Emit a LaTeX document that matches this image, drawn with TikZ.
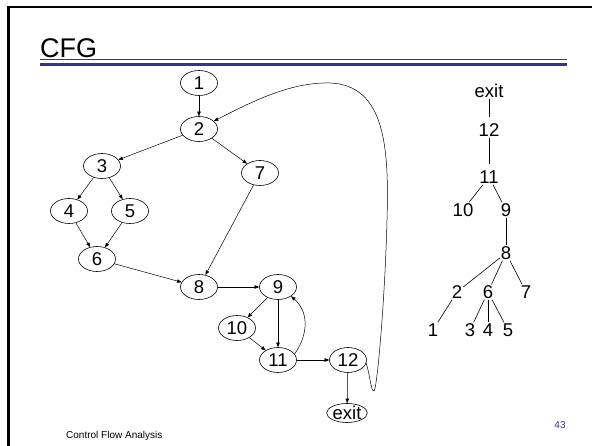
\documentclass[tikz,border=0pt]{standalone}
\usepackage{fontspec}
\setmainfont{Liberation Sans}
\usetikzlibrary{shapes.geometric,arrows.meta}
\definecolor{slideblue}{RGB}{51,51,153}
\begin{document}
\begin{tikzpicture}[x=1pt,y=-1pt,
  cfg/.style={ellipse,draw,line width=0.6pt,inner sep=0pt,minimum width=37pt,minimum height=25pt,font=\fontsize{18.5}{20}\selectfont,text height=13pt,text depth=0pt},
  exitnode/.style={cfg,minimum width=40pt,minimum height=19pt},
  arr/.style={line width=0.5pt,-{Triangle[length=4.5pt,width=3.5pt]}},
  tnode/.style={inner xsep=1pt,inner ysep=1pt,font=\fontsize{18.5}{20}\selectfont,text height=13pt,text depth=0pt},
  tline/.style={line width=0.6pt}]
\useasboundingbox (0,0) rectangle (592,446);
% slide frame
\draw[line width=2.5pt,line join=miter] (8.5,446) -- (8.5,7) -- (592,7);
% title
\node[anchor=base west,inner sep=0pt,font=\fontsize{27}{31}\selectfont] (title) at (40,58) {CFG};
\draw[slideblue,line width=1pt] (40,59.5) -- (567,59.5);
\draw[slideblue,line width=3pt] (40,64.5) -- (567,64.5);
% CFG nodes
\node[cfg] (n1) at (199,83) {1};
\node[cfg] (n2) at (199,129) {2};
\node[cfg] (n3) at (102,166) {3};
\node[cfg] (n7) at (260,173) {7};
\node[cfg] (n4) at (69,211) {4};
\node[cfg] (n5) at (130,211) {5};
\node[cfg] (n6) at (97,259) {6};
\node[cfg] (n8) at (199,287) {8};
\node[cfg] (n9) at (278,287) {9};
\node[cfg] (n10) at (237,328) {10};
\node[cfg] (n11) at (278,360) {11};
\node[cfg] (n12) at (348,360) {12};
\node[exitnode] (nexit) at (347,413) {exit};
% CFG edges
\draw[arr] (n1) -- (n2);
\draw[arr] (n2) -- (n3);
\draw[arr] (n2) -- (n7);
\draw[arr] (n3) -- (n4);
\draw[arr] (n3) -- (n5);
\draw[arr] (n4) -- (n6);
\draw[arr] (n5) -- (n6);
\draw[arr] (n6) -- (n8);
\draw[arr] (n7) -- (n8);
\draw[arr] (n8) -- (n9);
\draw[arr] (n9) -- (n10);
\draw[arr] (n9) -- (n11);
\draw[arr] (n10) -- (n11);
\draw[arr] (n11.20) .. controls (305,340) and (312,315) .. (n9.-35);
\draw[arr] (n11) -- (n12);
\draw[arr] (n12) -- (nexit);
\draw[arr] (n12.-10) .. controls (370,375) and (371,392) .. (374,391)
  .. controls (377,390) and (385,300) .. (387,220)
  .. controls (389,150) and (386,85) .. (330,83)
  .. controls (292,82) and (255,100) .. (n2.28);
% tree
\node[tnode] (texit) at (489,91.5) {exit};
\node[tnode] (t12) at (489,130) {12};
\node[tnode] (t11) at (489,177) {11};
\node[tnode] (t10) at (463,210) {10};
\node[tnode] (t9) at (506,210) {9};
\node[tnode] (t8) at (506,253) {8};
\node[tnode] (t2) at (457,292) {2};
\node[tnode] (t6) at (488,292) {6};
\node[tnode] (t7) at (526,292) {7};
\node[tnode] (t1) at (433,330) {1};
\node[tnode] (t3) at (470,330) {3};
\node[tnode] (t4) at (488,330) {4};
\node[tnode] (t5) at (508,330) {5};
\draw[tline,shorten >=5pt] (texit) -- (t12);
\draw[tline,shorten >=5pt] (t12) -- (t11);
\draw[tline] (t11) -- (t10);
\draw[tline] (t11) -- (t9);
\draw[tline] (t9) -- (t8);
\draw[tline] (t8) -- (t2);
\draw[tline] (t8) -- (t6);
\draw[tline] (t8) -- (t7);
\draw[tline] (t2) -- (t1);
\draw[tline] (t6) -- (t3);
\draw[tline] (t6) -- (t4);
\draw[tline] (t6) -- (t5);
% footer
\node[anchor=base west,inner sep=0pt,font=\fontsize{10}{12}\selectfont] (footer) at (66,438) {Control Flow Analysis};
\node[inner sep=0pt,font=\fontsize{10}{12}\selectfont,text=slideblue] (pagenum) at (560,425) {43};
\end{tikzpicture}
\end{document}
